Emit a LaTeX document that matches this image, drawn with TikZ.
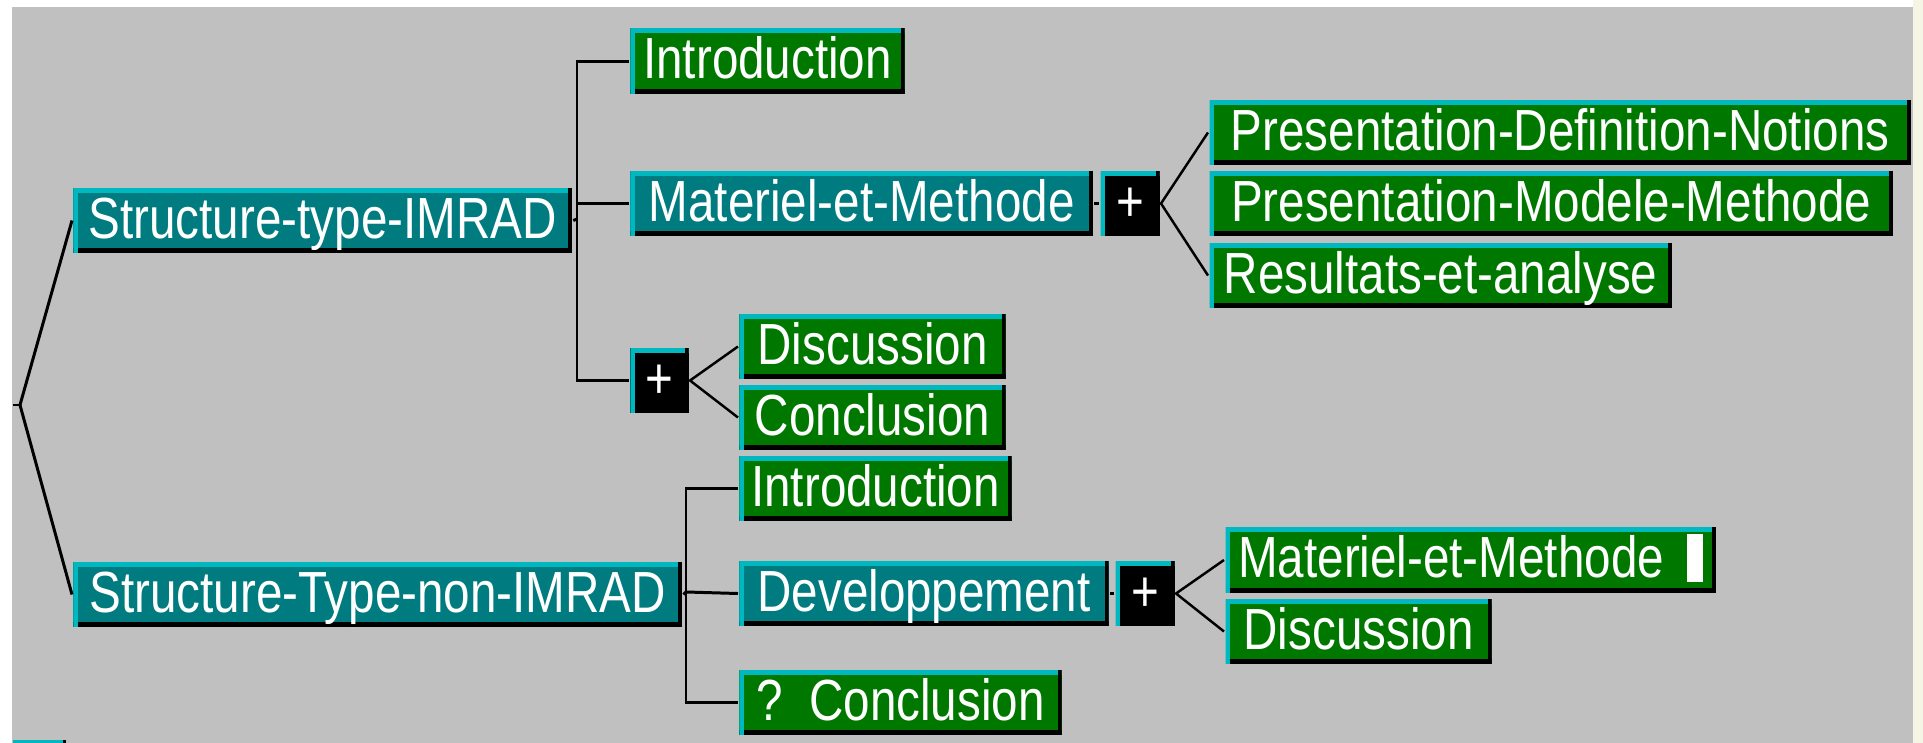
\documentclass[tikz,border=0pt]{standalone}
\usepackage{fontspec}
\newfontfamily\boxfont[FakeStretch=0.82]{Liberation Sans}
\usepackage{tikz}
\usepackage{xcolor}
\definecolor{tealNodeColor}{HTML}{007B7F}
\definecolor{greenNodeColor}{HTML}{007800}
\definecolor{lightEdgeColor}{HTML}{00B8C0}
\definecolor{bgColor}{HTML}{C0C0C0}
\definecolor{paleColor}{HTML}{F5F5E6}
\tikzset{
  boxNode/.style = {rectangle, anchor=north west, inner sep=0pt, text=white,
    minimum height=0.64cm, text height=12pt, text depth=1.8pt,
    font=\boxfont\fontsize{16.5}{18}\selectfont,
    path picture={
      \draw[line width=2.3pt, black] (path picture bounding box.south west) -- (path picture bounding box.south east);
      \draw[line width=2.3pt, lightEdgeColor] (path picture bounding box.south west) -- (path picture bounding box.north west) -- (path picture bounding box.north east);
      \draw[line width=2pt, black] (path picture bounding box.south east) -- (path picture bounding box.north east);
    }},% cadre en relief
  tealNode/.style = {boxNode, fill=tealNodeColor},% noeud structure
  greenNode/.style = {boxNode, fill=greenNodeColor},% noeud feuille
  plusNode/.style = {boxNode, fill=black},% noeud repliable
  fanEdge/.style = {line width=0.7pt},
}

\begin{document}
\begin{tikzpicture}[x=0.01cm, y=-0.01cm, line width=0.85pt]
\useasboundingbox (0,0) rectangle (1923,743);
\fill[white] (0,0) rectangle (1923,743);
\fill[bgColor] (12,7) rectangle (1913,743);
\fill[paleColor] (1913,0) rectangle (1923,743);
\fill[lightEdgeColor] (13,740) rectangle (63,743);
\fill[black] (63,740) rectangle (66,743);

% structure IMRAD
\node[tealNode, minimum width=4.98cm] (imrad) at (72,187) {Structure-type-IMRAD};
\node[greenNode, minimum width=2.74cm, minimum height=0.65cm] (introA) at (629,27) {Introduction};
\node[tealNode, minimum width=4.62cm] (mem) at (629,170) {Materiel-et-Methode};
\node[plusNode, minimum width=0.59cm] (plusA) at (1099,170) {+};
\node[greenNode, minimum width=7.01cm] (pdn) at (1208,99) {Presentation-Definition-Notions};
\node[greenNode, minimum width=6.83cm] (pmm) at (1208,170) {Presentation-Modele-Methode};
\node[greenNode, minimum width=4.62cm] (rea) at (1208,242) {Resultats-et-analyse};
\node[plusNode, minimum width=0.58cm] (plusB) at (629,347) {+};
\node[greenNode, minimum width=2.66cm] (discA) at (738,313) {Discussion};
\node[greenNode, minimum width=2.66cm] (conclA) at (738,384) {Conclusion};

% structure non IMRAD
\node[tealNode, minimum width=6.08cm] (nonimrad) at (72,561) {Structure-Type-non-IMRAD};
\node[greenNode, minimum width=2.72cm] (introB) at (738,455) {Introduction};
\node[tealNode, minimum width=3.69cm] (devel) at (738,560) {Developpement};
\node[plusNode, minimum width=0.59cm] (plusC) at (1114,560) {+};
\node[greenNode, minimum width=4.90cm, minimum height=0.65cm] (memB) at (1224,526)
  {Materiel-et-Methode\hspace{0.23cm}\rule[-0.04cm]{0.16cm}{0.48cm}};
\node[greenNode, minimum width=2.66cm] (discB) at (1224,598) {Discussion};
\node[greenNode, minimum width=3.22cm] (conclB) at (738,669) {?~~Conclusion};

\coordinate (racineStub) at (13,405);
\coordinate (racine) at (20,405);
\coordinate (brA) at (577,219);
\coordinate (brB) at (686,592);

\draw (racineStub) -- (racine);
\draw (racine) -- (imrad.west);
\draw (racine) -- (nonimrad.west);

\draw (imrad.east) -- (brA);
\draw (introA.west) -| (brA) |- (plusB.west);
\draw (brA |- mem.west) -- (mem.west);
\draw (mem.east) -- (plusA.west);
\draw[fanEdge] (pdn.west) -- (plusA.east) -- (rea.west);
\draw[fanEdge] (discA.west) -- (plusB.east) -- (conclA.west);

\draw (nonimrad.east) -- (brB);
\draw (introB.west) -| (brB) |- (conclB.west);
\draw (brB) -- (devel.west);
\draw (devel.east) -- (plusC.west);
\draw[fanEdge] (memB.west) -- (plusC.east) -- (discB.west);
\end{tikzpicture}
\end{document}
